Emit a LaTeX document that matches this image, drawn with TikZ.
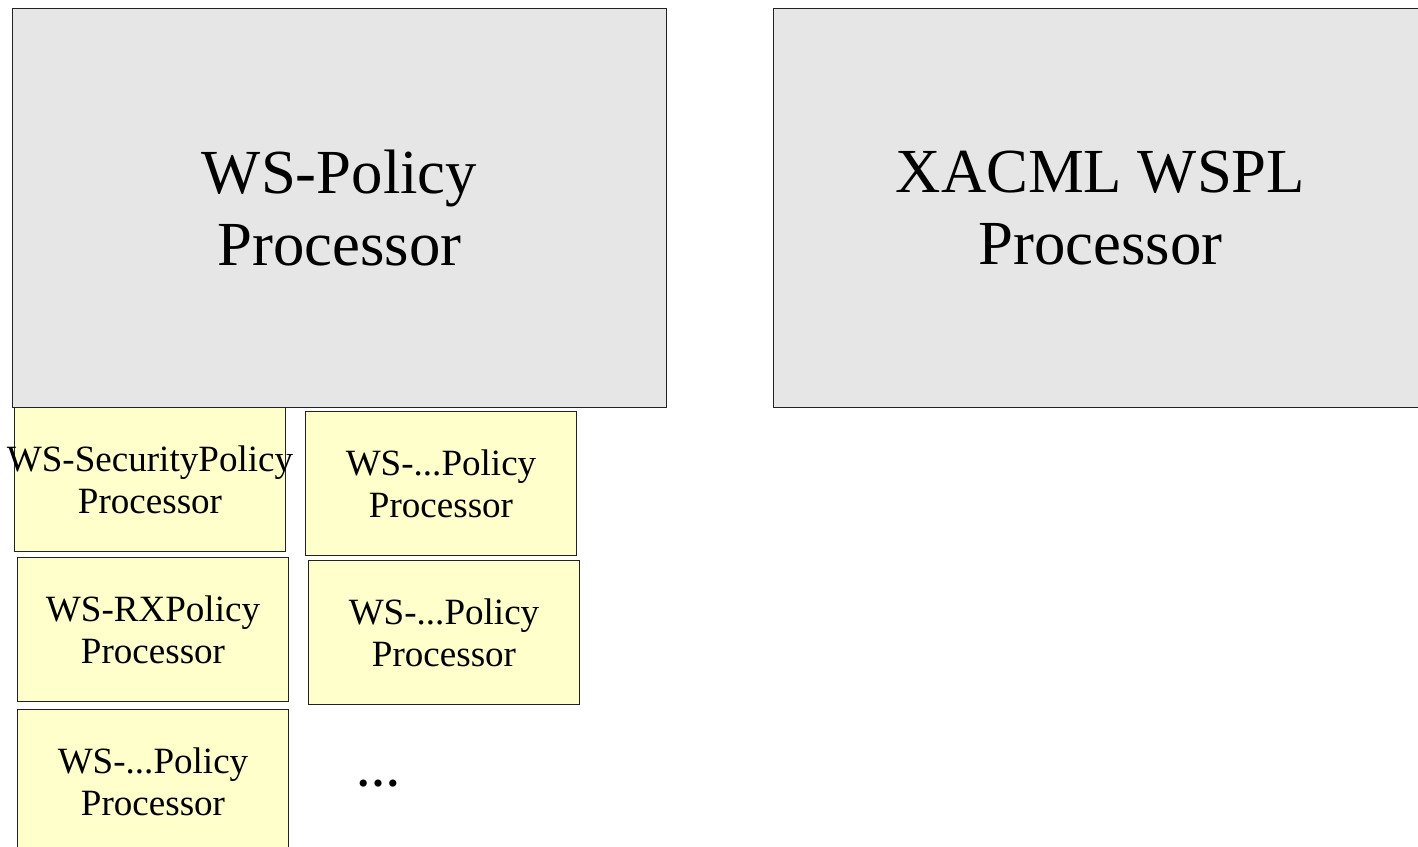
\documentclass[tikz,border=0pt]{standalone}
\usepackage{fontspec}
\setmainfont{Liberation Serif}
\usepackage{xcolor}
\definecolor{g1}{HTML}{E6E6E6}
\definecolor{y1}{HTML}{FFFFCC}
\definecolor{l1}{HTML}{222222}
\tikzset{
	bigbox/.style={draw=l1,fill=g1,anchor=north west,align=center,inner sep=0pt,
		minimum width=13.08cm,minimum height=7.98cm,font=\fontsize{35.7}{41}\selectfont},
	subbox/.style={draw=l1,fill=y1,anchor=north west,align=center,inner sep=0pt,
		minimum width=5.42cm,minimum height=2.88cm,font=\fontsize{21.1}{24}\selectfont}
}

\begin{document}
\begin{tikzpicture}[x=0.02cm,y=-0.02cm,line width=0.6pt]
	\useasboundingbox (0,0) rectangle (1418,847);
	\begin{scope}
	\node [bigbox] (wsp) at (12,8) {WS-Policy\\Processor};
	\node [bigbox] (xacml) at (773,8) {XACML WSPL\\Processor};
	\end{scope}
	\begin{scope}
	\node [subbox] (sec) at (14,407) {\makebox[0pt]{WS-SecurityPolicy}\\Processor};
	\node [subbox] (oth1) at (305,411) {WS-...Policy\\Processor};
	\node [subbox] (rx) at (17,557) {WS-RXPolicy\\Processor};
	\node [subbox] (oth2) at (308,560) {WS-...Policy\\Processor};
	\node [subbox] (oth3) at (17,709) {WS-...Policy\\Processor};
	\node [font=\fontsize{25}{28}\selectfont\bfseries] (more) at (378,784) {…};
	\end{scope}
\end{tikzpicture}
\end{document}
